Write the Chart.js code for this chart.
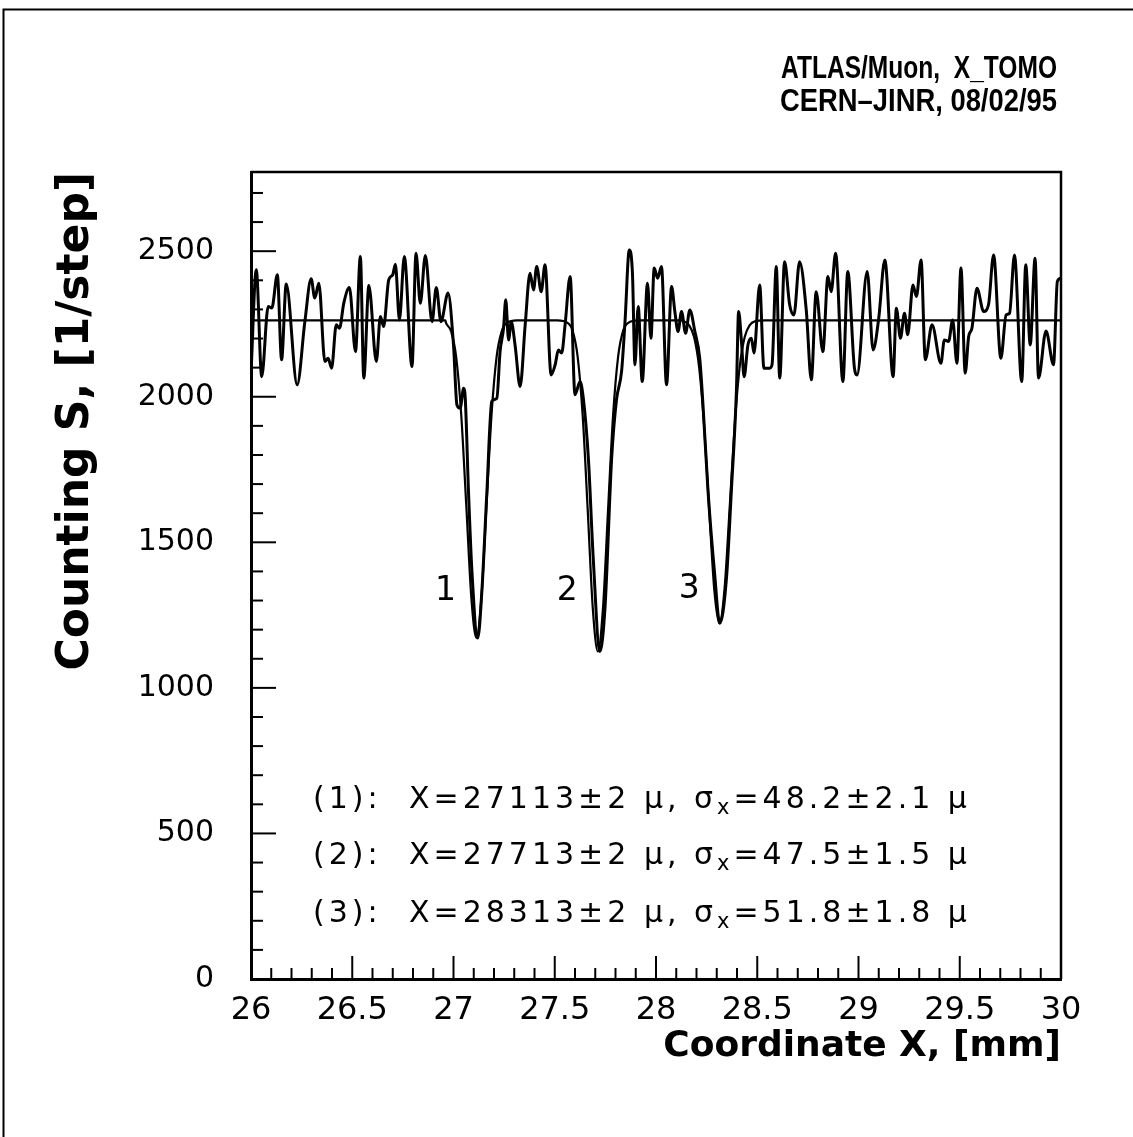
<!DOCTYPE html>
<html><head><meta charset="utf-8">
<script src="https://cdn.jsdelivr.net/npm/chart.js@4.4.1/dist/chart.umd.min.js"></script>
<style>html,body{margin:0;padding:0;background:#fff;overflow:hidden}canvas{display:block}</style>
</head><body>
<canvas id="c" width="1133" height="1137"></canvas>
<script>
// Measured counting data (x in mm, counts per step)
const dataX = [26.000,26.026,26.053,26.085,26.103,26.130,26.151,26.174,26.228,26.266,26.297,26.315,26.335,26.365,26.381,26.398,26.421,26.437,26.458,26.486,26.516,26.540,26.557,26.582,26.619,26.639,26.655,26.680,26.700,26.713,26.733,26.757,26.795,26.815,26.836,26.861,26.894,26.915,26.938,26.973,27.000,27.017,27.033,27.050,27.058,27.074,27.091,27.120,27.140,27.165,27.189,27.214,27.230,27.247,27.258,27.272,27.285,27.304,27.329,27.354,27.378,27.395,27.411,27.433,27.452,27.482,27.502,27.518,27.534,27.551,27.576,27.600,27.625,27.641,27.666,27.690,27.723,27.748,27.781,27.805,27.830,27.847,27.868,27.884,27.896,27.912,27.932,27.958,27.975,27.991,28.008,28.027,28.052,28.077,28.093,28.109,28.126,28.146,28.167,28.192,28.216,28.233,28.257,28.290,28.315,28.348,28.372,28.397,28.408,28.422,28.435,28.454,28.471,28.484,28.512,28.533,28.561,28.573,28.594,28.611,28.635,28.660,28.681,28.709,28.742,28.767,28.791,28.824,28.849,28.865,28.887,28.923,28.947,28.980,28.993,29.043,29.072,29.100,29.130,29.171,29.187,29.207,29.227,29.243,29.269,29.286,29.309,29.330,29.363,29.407,29.424,29.445,29.465,29.486,29.506,29.527,29.544,29.560,29.585,29.618,29.642,29.667,29.703,29.729,29.746,29.770,29.806,29.826,29.848,29.872,29.889,29.926,29.963,29.982,30.000];
const dataY = [2080,2436,2069,2310,2305,2419,2127,2387,2041,2258,2405,2339,2390,2121,2132,2098,2247,2235,2321,2375,2155,2482,2064,2382,2121,2276,2241,2401,2419,2455,2264,2482,2104,2493,2321,2485,2258,2375,2258,2356,2178,1972,1961,2029,1995,1675,1400,1171,1331,1675,1984,1995,2155,2235,2333,2195,2258,2178,2035,2247,2424,2367,2447,2361,2453,2075,2110,2161,2150,2247,2413,2007,2052,1995,1789,1446,1125,1274,1789,1990,2087,2258,2504,2419,2110,2310,2052,2390,2201,2442,2407,2447,2041,2379,2293,2224,2293,2218,2298,2224,2132,1961,1675,1388,1222,1377,1675,2018,2293,2190,2069,2178,2201,2150,2384,2098,2098,2110,2447,2064,2464,2316,2281,2464,2298,2058,2361,2155,2413,2361,2493,2052,2430,2098,2075,2430,2161,2270,2470,2069,2304,2201,2287,2213,2384,2344,2470,2127,2247,2115,2195,2190,2264,2115,2442,2081,2207,2235,2373,2293,2316,2487,2132,2281,2287,2487,2052,2453,2178,2476,2064,2226,2110,2396,2407];
// Fitted curve (constant background with three dips)
const fitX = [26.000,26.960,26.963,26.988,27.013,27.038,27.063,27.088,27.113,27.138,27.163,27.188,27.213,27.238,27.263,27.313,27.513,27.563,27.588,27.613,27.638,27.663,27.688,27.713,27.738,27.763,27.788,27.813,27.838,27.863,27.913,28.113,28.138,28.163,28.188,28.213,28.238,28.263,28.288,28.313,28.338,28.363,28.388,28.413,28.438,28.463,28.488,28.538,30.000];
const fitY = [2262,2262,2254,2225,2138,1940,1628,1311,1172,1311,1628,1940,2138,2225,2254,2262,2262,2254,2227,2138,1935,1608,1272,1125,1272,1608,1935,2138,2227,2254,2262,2262,2259,2246,2205,2101,1897,1609,1336,1222,1336,1609,1897,2101,2205,2246,2259,2262,2262];
// Peak labels
const peakNames = ['1','2','3'];
const peakLabelX = [26.961,27.562,28.164];
const peakLabelY = [1330,1330,1337];
// Fit results
const fitTags = ['(1):','(2):','(3):'];
const fitPos = ['27113±2 μ,','27713±2 μ,','28313±2 μ,'];
const fitSigma = ['48.2±2.1 μ','47.5±1.5 μ','51.8±1.8 μ'];
const headerLines = ['ATLAS/Muon,  X_TOMO','CERN\u2013JINR, 08/02/95'];

const dataPts = dataX.map((x,i)=>({x, y:dataY[i]}));
const fitPts = fitX.map((x,i)=>({x, y:fitY[i]}));

function drawScaledText(ctx, text, x, y, font, align, targetW){
  ctx.save();
  ctx.font = font;
  const w = ctx.measureText(text).width;
  const sx = targetW ? targetW / w : 1;
  ctx.translate(x, y);
  ctx.scale(sx, 1);
  ctx.textAlign = align; ctx.textBaseline = 'alphabetic';
  ctx.fillText(text, 0, 0);
  ctx.restore();
  return w * sx;
}

const decor = {
  id: 'decor',
  beforeDraw(chart){
    const ctx = chart.ctx;
    ctx.save(); ctx.fillStyle = '#fff'; ctx.fillRect(0,0,chart.width,chart.height); ctx.restore();
  },
  afterDraw(chart){
    const ctx = chart.ctx, xs = chart.scales.x, ys = chart.scales.y, a = chart.chartArea;
    ctx.save();
    ctx.strokeStyle = '#000'; ctx.fillStyle = '#000'; ctx.lineCap = 'butt';
    // frame box top and right
    ctx.lineWidth = 2.5;
    ctx.beginPath();
    ctx.moveTo(a.left, a.top); ctx.lineTo(a.right, a.top); ctx.lineTo(a.right, a.bottom);
    ctx.stroke();
    // inner ticks
    ctx.lineWidth = 2;
    ys.ticks.forEach(t => {
      const y = ys.getPixelForValue(t.value);
      const major = Math.abs(t.value % 500) < 1e-6;
      ctx.beginPath(); ctx.moveTo(a.left, y); ctx.lineTo(a.left + (major ? 25 : 12), y); ctx.stroke();
    });
    xs.ticks.forEach(t => {
      const x = xs.getPixelForValue(t.value);
      const v2 = t.value * 2;
      const major = Math.abs(v2 - Math.round(v2)) < 1e-6;
      ctx.beginPath(); ctx.moveTo(x, a.bottom); ctx.lineTo(x, a.bottom - (major ? 23 : 11)); ctx.stroke();
    });
    // outer frame
    ctx.lineWidth = 2;
    ctx.strokeRect(3.5, 9.5, chart.width - 1, chart.height);
    // header
    ctx.fillStyle = '#000';
    drawScaledText(ctx, headerLines[0], 1057, 78, 'bold 31px "Liberation Sans"', 'right', 276);
    drawScaledText(ctx, headerLines[1], 1057, 111, 'bold 31px "Liberation Sans"', 'right', 277);
    // peak labels
    ctx.font = '33px "DejaVu Sans"'; ctx.textAlign = 'center'; ctx.textBaseline = 'middle';
    peakNames.forEach((n,i)=>{
      ctx.fillText(n, xs.getPixelForValue(peakLabelX[i]), ys.getPixelForValue(peakLabelY[i]));
    });
    // fit results
    const base = [808, 864, 922];
    fitTags.forEach((tag,i)=>{
      const y = base[i];
      ctx.textAlign = 'left'; ctx.textBaseline = 'alphabetic';
      ctx.font = '30px "DejaVu Sans"';
      ctx.letterSpacing = '4px';
      ctx.fillText(tag, 313, y);
      let x = 409;
      const p1 = 'X=' + fitPos[i] + ' σ';
      ctx.fillText(p1, x, y); x += ctx.measureText(p1).width;
      ctx.font = '21px "DejaVu Sans"';
      ctx.fillText('x', x, y + 6); x += ctx.measureText('x').width;
      ctx.font = '30px "DejaVu Sans"';
      ctx.fillText('=' + fitSigma[i], x, y);
      ctx.letterSpacing = '0px';
    });
    ctx.restore();
  }
};

new Chart(document.getElementById('c'), {
  type: 'line',
  data: { datasets: [
    { data: dataPts, borderColor:'#000', borderWidth:3, pointRadius:0, cubicInterpolationMode:'monotone', fill:false },
    { data: fitPts, borderColor:'#000', borderWidth:2.2, pointRadius:0, cubicInterpolationMode:'monotone', fill:false }
  ]},
  options: {
    responsive:false, animation:false, devicePixelRatio:1,
    layout:{padding:{top:172, right:72, left:0, bottom:0}},
    plugins:{legend:{display:false}, tooltip:{enabled:false}},
    scales:{
      x:{ type:'linear', min:26, max:30,
        afterFit(s){ s.height = 158; },
        grid:{display:false, drawTicks:false},
        border:{display:true, color:'#000', width:3},
        ticks:{ stepSize:0.1, autoSkip:false, maxRotation:0, padding:12, color:'#000',
          font:{family:'DejaVu Sans', size:32},
          callback(v){ const v2=v*2; return Math.abs(v2-Math.round(v2))<1e-6 ? String(Math.round(v*10)/10) : ''; } },
        title:{ display:true, text:'Coordinate X, [mm]', align:'end', color:'#000',
          font:{family:'DejaVu Sans', size:36, weight:'bold'}, padding:{top:0,bottom:69} }
      },
      y:{ type:'linear', min:0, max:2772,
        afterFit(s){ s.width = 251; },
        grid:{display:false, drawTicks:false},
        border:{display:true, color:'#000', width:3},
        ticks:{ stepSize:100, includeBounds:false, autoSkip:false, padding:37, color:'#000',
          font:{family:'DejaVu Sans', size:30},
          callback(v){ return (Math.round(v) % 500 === 0) ? String(Math.round(v)) : ''; } },
        title:{ display:true, text:'Counting S, [1/step]', align:'end', color:'#000',
          font:{family:'DejaVu Sans', size:44, weight:'bold'}, padding:{top:50,bottom:0} }
      }
    }
  },
  plugins:[decor]
});
</script>
</body></html>
